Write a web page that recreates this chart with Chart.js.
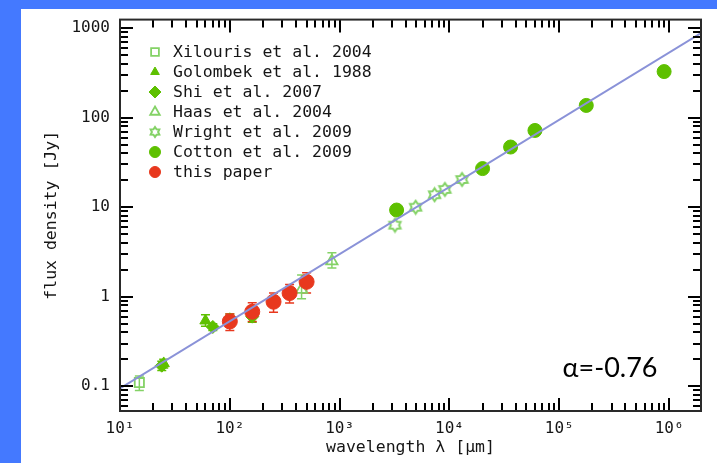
<!DOCTYPE html>
<html>
<head>
<meta charset="utf-8">
<script src="https://cdn.jsdelivr.net/npm/chart.js@4/dist/chart.umd.min.js"></script>
<style>
    html, body { margin: 0; padding: 0; background: #4479ff; }
    #wrap { width: 717px; height: 463px; position: relative; }
</style>
</head>
<body>
<div id="wrap"><canvas id="chart"></canvas></div>
<script>
// data (wavelength in um, flux density in Jy)
const xilourisX = [15];
const xilourisY = [0.11];
const xilourisLo = [0.09];
const xilourisHi = [0.13];

const golombekX = [25, 60, 100];
const golombekY = [0.18, 0.54, 0.56];
const golombekLo = [0.16, 0.47, 0.48];
const golombekHi = [0.20, 0.63, 0.64];

const shiX = [24, 70, 160];
const shiY = [0.17, 0.46, 0.60];
const shiLo = [0.15, 0.42, 0.52];
const shiHi = [0.19, 0.50, 0.70];

const haasX = [450, 850];
const haasY = [1.2, 2.5];
const haasLo = [0.95, 2.1];
const haasHi = [1.75, 3.1];

const wrightX = [3190, 4920, 7320, 9090, 13000];
const wrightY = [6.3, 10.0, 13.8, 15.8, 20.4];

const cottonX = [3300, 20000, 36000, 60000, 176000, 900000];
const cottonY = [9.3, 27, 47, 72, 137, 327];

const paperX = [100, 160, 250, 350, 500];
const paperY = [0.53, 0.68, 0.88, 1.10, 1.47];
const paperLo = [0.42, 0.53, 0.67, 0.85, 1.10];
const paperHi = [0.64, 0.86, 1.10, 1.37, 1.86];

const fitX = [10, 1.95e6];
const fitY = [0.095, 880];

const xTickVals = [1e1, 1e2, 1e3, 1e4, 1e5, 1e6];
const xTickLabels = ['10¹', '10²', '10³', '10⁴', '10⁵', '10⁶'];
const yTickVals = [0.1, 1, 10, 100, 1000];
const yTickLabels = ['0.1', '1', '10', '100', '1000'];
// decades that get 1..9 minor ticks
const xDecades = [1e1, 1e2, 1e3, 1e4, 1e5, 1e6];
const yDecades = [0.01, 0.1, 1, 10, 100, 1000];

const FONT = '"DejaVu Sans Mono", "Liberation Mono", monospace';
const GREEN = '#5ec000';
const LIGHT = '#84d266';
const RED = '#e8381e';
const INK = '#151515';

function pts(xs, ys) {
    return xs.map((x, i) => ({x: x, y: ys[i]}));
}

// little open six-pointed star for the Wright points
function makeStar(r) {
    const c = document.createElement('canvas');
    const s = Math.ceil(r * 2 + 4);
    c.width = s;
    c.height = s;
    const g = c.getContext('2d');
    g.strokeStyle = LIGHT;
    g.lineWidth = 2;
    g.beginPath();
    for (let k = 0; k < 12; k++) {
        const a = -Math.PI / 2 + k * Math.PI / 6;
        const rr = k % 2 === 0 ? r : r * 0.62;
        const px = s / 2 + rr * Math.cos(a), py = s / 2 + rr * Math.sin(a);
        if (k === 0) g.moveTo(px, py); else g.lineTo(px, py);
    }
    g.closePath();
    g.stroke();
    return c;
}
const starPlot = makeStar(6.5);
const starLegend = makeStar(5);

const bgPlugin = {
    id: 'bg',
    beforeDraw(chart) {
        const c = chart.ctx;
        c.save();
        c.fillStyle = '#4479ff';
        c.fillRect(0, 0, chart.width, chart.height);
        c.fillStyle = '#ffffff';
        c.fillRect(21, 9, chart.width - 21, chart.height - 9);
        c.restore();
    }
};

// error bars, under the markers
const errorPlugin = {
    id: 'errors',
    beforeDatasetsDraw(chart) {
        const c = chart.ctx;
        const ys = chart.scales.y;
        c.save();
        chart.data.datasets.forEach((ds, di) => {
            if (!ds.errLo) return;
            const meta = chart.getDatasetMeta(di);
            c.strokeStyle = ds.borderColor;
            c.lineWidth = 1.5;
            c.beginPath();
            meta.data.forEach((el, i) => {
                const y1 = ys.getPixelForValue(ds.errLo[i]);
                const y2 = ys.getPixelForValue(ds.errHi[i]);
                c.moveTo(el.x, y1); c.lineTo(el.x, y2);
                c.moveTo(el.x - 4.5, y1); c.lineTo(el.x + 4.5, y1);
                c.moveTo(el.x - 4.5, y2); c.lineTo(el.x + 4.5, y2);
            });
            c.stroke();
        });
        c.restore();
    }
};

// frame with inward major/minor ticks on all four sides
const framePlugin = {
    id: 'frame',
    afterDraw(chart) {
        const c = chart.ctx;
        const a = chart.chartArea;
        const xs = chart.scales.x, ys = chart.scales.y;
        c.save();
        c.strokeStyle = '#000000';
        c.lineWidth = 2;
        c.beginPath();
        xDecades.forEach((d) => {
            for (let m = 1; m <= 9; m++) {
                const v = m * d;
                if (v < xs.min * 0.999 || v > xs.max) continue;
                const px = Math.round(xs.getPixelForValue(v));
                const len = m === 1 ? 13 : 8;
                c.moveTo(px, a.bottom); c.lineTo(px, a.bottom - len);
                c.moveTo(px, a.top); c.lineTo(px, a.top + len);
            }
        });
        yDecades.forEach((d) => {
            for (let m = 1; m <= 9; m++) {
                const v = m * d;
                if (v < ys.min || v > ys.max * 1.001) continue;
                const py = Math.round(ys.getPixelForValue(v));
                const len = m === 1 ? 13 : 8;
                c.moveTo(a.left, py); c.lineTo(a.left + len, py);
                c.moveTo(a.right, py); c.lineTo(a.right - len, py);
            }
        });
        c.stroke();
        c.strokeStyle = '#2a2a2a';
        c.lineWidth = 2;
        c.strokeRect(a.left, a.top, a.right - a.left, a.bottom - a.top);

        // inner legend
        c.font = '16.5px ' + FONT;
        c.textBaseline = 'middle';
        let row = 0;
        chart.data.datasets.forEach((ds) => {
            if (!ds.label) return;
            const y = 52 + row * 20;
            c.fillStyle = ds.backgroundColor;
            c.strokeStyle = ds.borderColor;
            c.lineWidth = ds.borderWidth;
            const style = ds.legendStyle || ds.pointStyle;
            Chart.helpers.drawPoint(c, {pointStyle: style, radius: ds.legendRadius, rotation: 0, borderWidth: ds.borderWidth}, 155, y);
            c.fillStyle = INK;
            c.fillText(ds.label, 173, y + 1);
            row++;
        });
        c.font = '27px Lato, "Open Sans", sans-serif';
        c.fillStyle = '#000';
        c.textAlign = 'center';
        c.fillText('α=-0.76', 610, 368);
        c.restore();
    }
};

new Chart(document.getElementById('chart'), {
    type: 'scatter',
    data: {
        datasets: [{
            data: pts(fitX, fitY),
            showLine: true,
            borderColor: '#8a92d8',
            borderWidth: 2,
            pointRadius: 0,
            order: 0
        }, {
            label: 'Xilouris et al. 2004',
            data: pts(xilourisX, xilourisY),
            errLo: xilourisLo, errHi: xilourisHi,
            pointStyle: 'rect', pointRadius: 6.5, legendRadius: 5.5,
            borderColor: LIGHT, backgroundColor: 'rgba(255,255,255,0)', borderWidth: 1.8,
            order: 3
        }, {
            label: 'Golombek et al. 1988',
            data: pts(golombekX, golombekY),
            errLo: golombekLo, errHi: golombekHi,
            pointStyle: 'triangle', pointRadius: 6.5, legendRadius: 5,
            borderColor: GREEN, backgroundColor: GREEN, borderWidth: 1,
            order: 3
        }, {
            label: 'Shi et al. 2007',
            data: pts(shiX, shiY),
            errLo: shiLo, errHi: shiHi,
            pointStyle: 'rectRot', pointRadius: 6.5, legendRadius: 6,
            borderColor: GREEN, backgroundColor: GREEN, borderWidth: 1,
            order: 3
        }, {
            label: 'Haas et al. 2004',
            data: pts(haasX, haasY),
            errLo: haasLo, errHi: haasHi,
            pointStyle: 'triangle', pointRadius: 6.5, legendRadius: 5.5,
            borderColor: LIGHT, backgroundColor: 'rgba(255,255,255,0)', borderWidth: 1.8,
            order: 3
        }, {
            label: 'Wright et al. 2009',
            data: pts(wrightX, wrightY),
            pointStyle: starPlot, legendStyle: starLegend, pointRadius: 6.5, legendRadius: 5,
            borderColor: LIGHT, backgroundColor: 'rgba(255,255,255,0)', borderWidth: 2,
            order: 3
        }, {
            label: 'Cotton et al. 2009',
            data: pts(cottonX, cottonY),
            pointStyle: 'circle', pointRadius: 7, legendRadius: 5.5,
            borderColor: GREEN, backgroundColor: GREEN, borderWidth: 1,
            order: 2
        }, {
            label: 'this paper',
            data: pts(paperX, paperY),
            errLo: paperLo, errHi: paperHi,
            pointStyle: 'circle', pointRadius: 7.5, legendRadius: 5.5,
            borderColor: RED, backgroundColor: RED, borderWidth: 1,
            order: 1
        }]
    },
    options: {
        responsive: true,
        maintainAspectRatio: false,
        animation: false,
        layout: {padding: {top: 15, right: 16, bottom: 0, left: 0}},
        plugins: {
            legend: {display: false},
            tooltip: {enabled: false}
        },
        elements: {point: {hoverRadius: 0}},
        scales: {
            x: {
                type: 'logarithmic',
                min: 10,
                max: 1.95e6,
                grid: {display: false, drawTicks: false},
                border: {display: false},
                afterBuildTicks: (scale) => { scale.ticks = xTickVals.map(v => ({value: v})); },
                afterFit: (scale) => { scale.height = 52; },
                ticks: {
                    autoSkip: false,
                    maxRotation: 0,
                    padding: 8,
                    color: INK,
                    font: {family: FONT, size: 16},
                    callback: (value, index) => xTickLabels[index]
                },
                title: {
                    display: true,
                    text: 'wavelength λ [µm]',
                    color: INK,
                    font: {family: FONT, size: 16.5},
                    padding: {top: 0, bottom: 5}
                }
            },
            y: {
                type: 'logarithmic',
                min: 0.053,
                max: 1245,
                grid: {display: false, drawTicks: false},
                border: {display: false},
                afterBuildTicks: (scale) => { scale.ticks = yTickVals.map(v => ({value: v})); },
                afterFit: (scale) => { scale.width = 120; },
                ticks: {
                    autoSkip: false,
                    padding: 10,
                    color: INK,
                    font: {family: FONT, size: 16},
                    callback: (value, index) => yTickLabels[index]
                },
                title: {
                    display: true,
                    text: 'flux density [Jy]',
                    color: INK,
                    font: {family: FONT, size: 16.5},
                    padding: {top: 42, bottom: 0}
                }
            }
        }
    },
    plugins: [bgPlugin, errorPlugin, framePlugin]
});
</script>
</body>
</html>
